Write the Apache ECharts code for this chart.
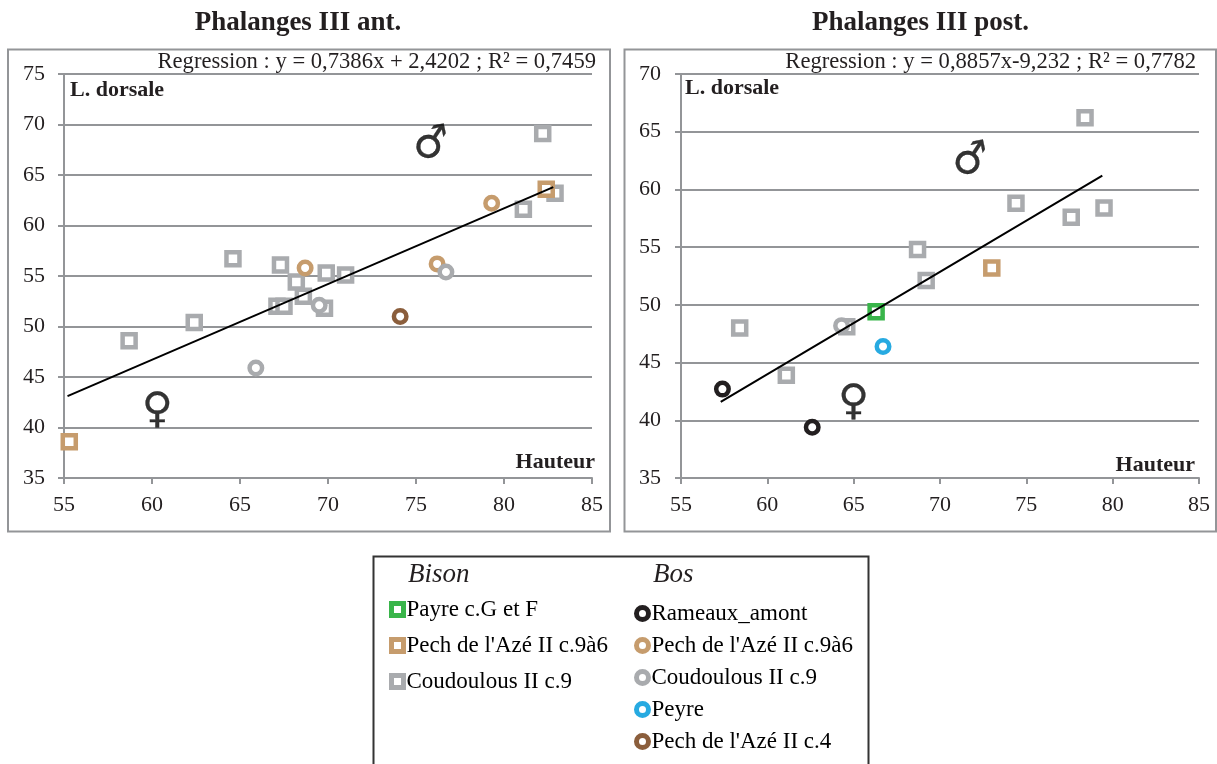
<!DOCTYPE html>
<html><head><meta charset="utf-8">
<style>html,body{margin:0;padding:0;background:#fff}#c{width:1217px;height:764px}</style>
<script src="https://cdn.jsdelivr.net/npm/echarts@6/dist/echarts.min.js"></script></head>
<body><div id="c"></div>
<script>
const titleAnt = "Phalanges III ant.";
const titlePost = "Phalanges III post.";
const regAnt = "Regression : y = 0,7386x + 2,4202 ; R² = 0,7459";
const regPost = "Regression : y = 0,8857x-9,232 ; R² = 0,7782";

const antBisonPech = [[55.3,38.6],[82.4,63.6]];
const antBisonCoud = [[58.7,48.6],[62.4,50.4],[64.6,56.7],[67.3,56.1],[68.2,54.4],[68.6,53],[67.1,52],[67.5,52],[69.8,51.8],[69.9,55.3],[71,55.1],[81.1,61.6],[82.2,69.1],[82.9,63.2]];
const antBosPech9 = [[68.7,55.8],[76.2,56.2],[79.3,62.2]];
const antBosCoud = [[65.9,45.9],[69.5,52.1],[76.7,55.4]];
const antBosPech4 = [[74.1,51]];
const antLine = [[55.2,43.1],[82.8,63.8]];
const antMale = [[75.9,67.9]];
const antFemale = [[60.3,41.6]];

const postBisonPayre = [[66.3,49.4]];
const postBisonPech = [[73,53.2]];
const postBisonCoud = [[58.4,48],[61.1,43.9],[64.6,48.1],[68.7,54.8],[69.2,52.1],[74.4,58.8],[77.6,57.6],[78.4,66.2],[79.5,58.4]];
const postBosRam = [[57.4,42.7],[62.6,39.4]];
const postBosCoud = [[64.3,48.2]];
const postBosPeyre = [[66.7,46.4]];
const postLine = [[57.3,41.6],[79.4,61.2]];
const postMale = [[71.8,62.4]];
const postFemale = [[65,41.5]];

const bisonNames = ["Payre c.G et F","Pech de l'Azé II c.9à6","Coudoulous II c.9"];
const bosNames = ["Rameaux_amont","Pech de l'Azé II c.9à6","Coudoulous II c.9","Peyre","Pech de l'Azé II c.4"];

const green='#39b54a',tan='#c69c6d',gray='#a9abae',black='#231f20',blue='#27aae1',brown='#8b5e3c';
const serif='"Liberation Serif"';
const axisGray='#939598';

function sq(name,color,data,i,z){return {name:'Bison '+name,type:'scatter',xAxisIndex:i,yAxisIndex:i,data,symbol:'rect',symbolSize:13,
  itemStyle:{color:'#fff',borderColor:color,borderWidth:4.5,opacity:1},z:z||3};}
function ci(name,color,data,i){return {name:'Bos '+name,type:'scatter',xAxisIndex:i,yAxisIndex:i,data,symbol:'circle',symbolSize:12.5,
  itemStyle:{color:'#fff',borderColor:color,borderWidth:4.5,opacity:1},z:4};}
function ln(data,i){return {type:'line',xAxisIndex:i,yAxisIndex:i,data,symbol:'none',lineStyle:{color:'#000',width:2},z:5,silent:true};}
function sex(glyph,data,i,size,rot){return {type:'scatter',xAxisIndex:i,yAxisIndex:i,data,symbolSize:2,itemStyle:{color:'transparent'},silent:true,z:6,
  label:{show:true,position:'inside',rotate:rot||0,formatter:glyph,fontFamily:'"DejaVu Sans"',fontSize:size,color:'#000',textBorderColor:'#000',textBorderWidth:0.3}};}
function xA(i){return {type:'value',gridIndex:i,min:55,max:85,interval:5,splitLine:{show:false},
  axisLine:{show:true,onZero:false,lineStyle:{color:axisGray,width:2}},axisTick:{show:true,length:6,lineStyle:{color:axisGray,width:2}},
  axisLabel:{fontFamily:serif,fontSize:22,color:black,margin:16,showMinLabel:true,showMaxLabel:true}};}
function yA(i,max,m){return {type:'value',gridIndex:i,min:35,max,interval:5,
  splitLine:{show:true,lineStyle:{color:axisGray,width:2}},
  axisLine:{show:true,onZero:false,lineStyle:{color:axisGray,width:2}},axisTick:{show:true,length:6,lineStyle:{color:axisGray,width:2}},
  axisLabel:{fontFamily:serif,fontSize:22,color:black,margin:m}};}
function txt(left,top,text,size,weight,style,align){return {type:'text',x:left,y:top,z:10,
  style:{text,fontFamily:serif,fontSize:size,fontWeight:weight||'normal',fontStyle:style||'normal',fill:black,align:align||'left',verticalAlign:'middle'}};}
function frame(x,y,w,h,color,lw){return {type:'rect',x,y,z:-1,shape:{width:w,height:h},style:{fill:'#fff',stroke:color,lineWidth:lw}};}

const legendCommon={orient:'vertical',itemWidth:12,itemHeight:12,selectedMode:false,
  itemStyle:{borderWidth:5},
  textStyle:{fontFamily:serif,fontSize:23,color:'#000',padding:[0,0,0,-2]},
  formatter:n=>n.replace(/^(Bison|Bos) /,'')};

const option={
  animation:false,backgroundColor:'#fff',
  title:[
    {text:titleAnt,left:293,top:5,textAlign:'center',textStyle:{fontFamily:serif,fontSize:27,fontWeight:'bold',color:black}},
    {text:titlePost,left:915.5,top:5,textAlign:'center',textStyle:{fontFamily:serif,fontSize:27,fontWeight:'bold',color:black}}
  ],
  grid:[
    {left:64,top:74,width:528,height:404},
    {left:681,top:74,width:518,height:404}
  ],
  xAxis:[xA(0),xA(1)],
  yAxis:[yA(0,75,19),yA(1,70,20)],
  legend:[
    Object.assign({},legendCommon,{left:384,top:593,itemGap:13,data:bisonNames.map(n=>'Bison '+n)}),
    Object.assign({},legendCommon,{left:629,top:597,itemGap:9,data:bosNames.map(n=>'Bos '+n)})
  ],
  graphic:{elements:[
    frame(8,49.5,602,482,axisGray,2),
    frame(624.5,49.5,591.5,482,axisGray,2),
    frame(373.5,556.5,495,230,'#333',2),
    txt(596,62,regAnt,22.6,'normal','normal','right'),
    txt(1196,62,regPost,22.6,'normal','normal','right'),
    txt(70,90,'L. dorsale',22,'bold'),
    txt(685,88,'L. dorsale',22,'bold'),
    txt(595,462,'Hauteur',22,'bold','normal','right'),
    txt(1195,465,'Hauteur',22,'bold','normal','right'),
    txt(408,575,'Bison',27,'normal','italic'),
    txt(653,575,'Bos',27,'normal','italic')
  ]},
  series:[
    sq(bisonNames[0],green,[],0),
    sq(bisonNames[1],tan,antBisonPech,0,3.5),
    sq(bisonNames[2],gray,antBisonCoud,0),
    ci(bosNames[0],black,[],0),
    ci(bosNames[1],tan,antBosPech9,0),
    ci(bosNames[2],gray,antBosCoud,0),
    ci(bosNames[3],blue,[],0),
    ci(bosNames[4],brown,antBosPech4,0),
    ln(antLine,0),
    sex('♂',antMale,0,42,12),
    sex('♀',antFemale,0,42),
    sq(bisonNames[0],green,postBisonPayre,1),
    sq(bisonNames[1],tan,postBisonPech,1),
    sq(bisonNames[2],gray,postBisonCoud,1),
    ci(bosNames[0],black,postBosRam,1),
    ci(bosNames[2],gray,postBosCoud,1),
    ci(bosNames[3],blue,postBosPeyre,1),
    ln(postLine,1),
    sex('♂',postMale,1,42,12),
    sex('♀',postFemale,1,42)
  ]
};
echarts.init(document.getElementById('c'),null,{renderer:'canvas'}).setOption(option);
</script></body></html>
